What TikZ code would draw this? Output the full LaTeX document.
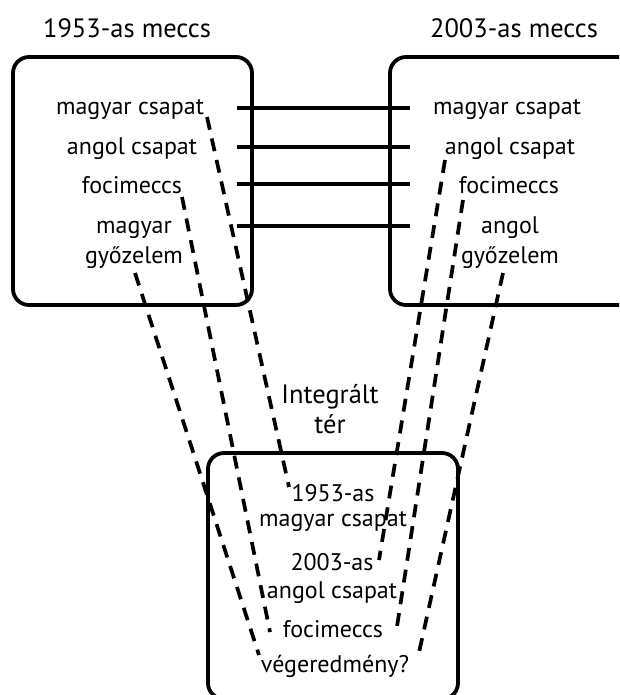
\documentclass[tikz,border=0pt]{standalone}
\usepackage{fontspec}
\setmainfont{PT Sans}
\begin{document}
\begin{tikzpicture}[x=1pt,y=-1pt,
  lab/.style={font=\fontsize{24}{28}\selectfont, inner sep=0pt, anchor=base, align=center},
  head/.style={lab, font=\fontsize{26.5}{30}\selectfont},
  box/.style={draw, line width=3.8pt, rounded corners=16pt},
  link/.style={line width=3.8pt},
  dlink/.style={line width=3.7pt, dash pattern=on 13pt off 9pt}]
\useasboundingbox (0,0) rectangle (619,695);
\clip (0,0) rectangle (619,695);
% boxes
\draw[box] (13,57) rectangle (252,305);
\draw[box] (390,57) rectangle (650,305);
\draw[box] (208,453) rectangle (458,699);
% titles
\node[head] (T1) at (127,38) {1953-as meccs};
\node[head] (T2) at (514,38) {2003-as meccs};
% left items
\node[lab] (L1) at (130,115) {magyar csapat};
\node[lab] (L2) at (132,155) {angol csapat};
\node[lab] (L3) at (132,193) {focimeccs};
\node[lab] (L4) at (134,263) {magyar\\[2pt]győzelem};
% right items
\node[lab] (R1) at (507,115) {magyar csapat};
\node[lab] (R2) at (510,155) {angol csapat};
\node[lab] (R3) at (509,193) {focimeccs};
\node[lab] (R4) at (510,263) {angol\\[2pt]győzelem};
% blend
\node[head] (I) at (330,433) {Integrált\\tér};
\node[lab] (B1) at (333,526) {1953-as\\[-3pt]magyar csapat};
\node[lab] (B2) at (332,598) {2003-as\\angol csapat};
\node[lab] (B3) at (333,637) {focimeccs};
\node[lab] (B4) at (335,672) {végeredmény?};
% solid links
\foreach \n/\y in {1/108,2/147,3/184,4/226}{
  \coordinate (sa\n) at (237,\y);
  \coordinate (sb\n) at (410,\y);
  \draw[link] (sa\n) -- (sb\n);
}
% dashed links
\coordinate (fa) at (207,117); \coordinate (fb) at (289,487);
\coordinate (ea) at (182,197); \coordinate (eb) at (270,632);
\coordinate (da) at (135,273); \coordinate (db) at (259,655);
\coordinate (aa) at (445,160); \coordinate (ab) at (379,560);
\coordinate (ba) at (463,200); \coordinate (bb) at (396,633);
\coordinate (ca) at (503,273); \coordinate (cb) at (418,657);
\draw[dlink] (fa) -- (fb);
\draw[dlink] (ea) -- (eb);
\draw[dlink] (da) -- (db);
\draw[dlink] (aa) -- (ab);
\draw[dlink] (ba) -- (bb);
\draw[dlink] (ca) -- (cb);
\end{tikzpicture}
\end{document}
